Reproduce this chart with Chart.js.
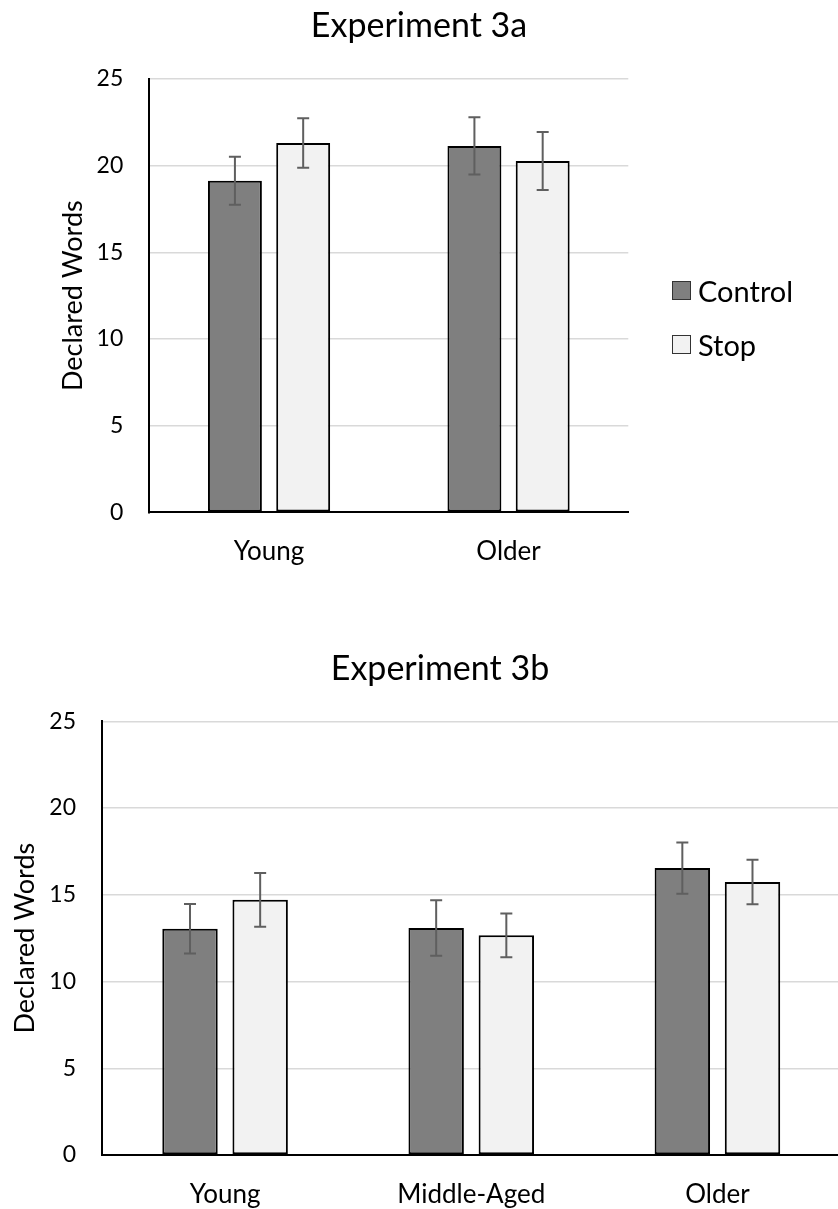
<!DOCTYPE html>
<html>
<head>
<meta charset="utf-8">
<script src="https://cdn.jsdelivr.net/npm/chart.js@4.4.1/dist/chart.umd.min.js"></script>
<style>
  html, body { margin: 0; padding: 0; background: #fff; overflow: hidden; }
  body { position: relative; width: 838px; height: 1209px; font-family: 'Lato', sans-serif; }
  #chartA { position: absolute; left: 0; top: 0; }
  #chartB { position: absolute; left: 0; top: 600px; }
  #legendA { position: absolute; left: 672px; top: 263px; }
  .item { display: flex; align-items: center; height: 54px; font-size: 29px; color: #000; }
  .box { width: 17px; height: 17px; border: 1.5px solid #333; margin-right: 7px; }
</style>
</head>
<body>
<canvas id="chartA" width="838" height="600"></canvas>
<canvas id="chartB" width="880" height="609"></canvas>
<div id="legendA"></div>
<script>
// Experiment 3a
const categoriesA = ['Young', 'Older'];
const controlA = [19.13, 21.14];
const stopA = [21.31, 20.27];
const controlErrA = [1.38, 1.65];
const stopErrA = [1.43, 1.67];

// Experiment 3b
const categoriesB = ['Young', 'Middle-Aged', 'Older'];
const controlB = [13.04, 13.08, 16.54];
const stopB = [14.71, 12.66, 15.74];
const controlErrB = [1.43, 1.60, 1.48];
const stopErrB = [1.55, 1.26, 1.28];

const seriesNames = ['Control', 'Stop'];
const seriesColors = ['#7f7f7f', '#f2f2f2'];

Chart.defaults.font.family = 'Lato';
Chart.defaults.color = '#000';

// error bars drawn from the y scale
const errorBars = {
    id: 'errorBars',
    afterDatasetsDraw(chart) {
        const ctx = chart.ctx;
        const y = chart.scales.y;
        ctx.save();
        ctx.strokeStyle = '#5f5f5f';
        ctx.lineWidth = 2;
        chart.data.datasets.forEach((ds, i) => {
            chart.getDatasetMeta(i).data.forEach((bar, j) => {
                const v = ds.data[j];
                const e = ds.errors[j];
                const top = y.getPixelForValue(v + e);
                const bot = y.getPixelForValue(v - e);
                ctx.beginPath();
                ctx.moveTo(bar.x, top);
                ctx.lineTo(bar.x, bot);
                ctx.moveTo(bar.x - 6, top);
                ctx.lineTo(bar.x + 6, top);
                ctx.moveTo(bar.x - 6, bot);
                ctx.lineTo(bar.x + 6, bot);
                ctx.stroke();
            });
        });
        ctx.restore();
    }
};

function makeChart(id, title, labels, control, stop, controlErr, stopErr, o) {
    return new Chart(document.getElementById(id), {
        type: 'bar',
        data: {
            labels: labels,
            datasets: [{
                label: seriesNames[0],
                data: control,
                errors: controlErr,
                backgroundColor: seriesColors[0],
            }, {
                label: seriesNames[1],
                data: stop,
                errors: stopErr,
                backgroundColor: seriesColors[1],
            }]
        },
        options: {
            responsive: false,
            animation: false,
            devicePixelRatio: 1,
            categoryPercentage: 0.57,
            barPercentage: 0.79,
            datasets: {
                bar: { borderColor: '#000', borderWidth: 2, borderSkipped: false }
            },
            layout: { padding: 0 },
            plugins: {
                legend: { display: false },
                tooltip: { enabled: false },
                title: {
                    display: true,
                    text: title,
                    color: '#000',
                    font: { size: 34, weight: 'normal' },
                    padding: { top: o.titleTop, bottom: o.titleBottom }
                }
            },
            scales: {
                x: {
                    grid: { display: false },
                    border: { display: true, color: '#000', width: 2 },
                    ticks: { padding: 16, color: '#000', font: { size: 26 } },
                    afterFit: (s) => { s.height = o.xHeight; }
                },
                y: {
                    min: 0,
                    max: 25,
                    ticks: { stepSize: 5, padding: 26, color: '#000', font: { size: 23 } },
                    grid: {
                        drawTicks: false,
                        lineWidth: 1.5,
                        color: (c) => c.tick && c.tick.value === 0 ? 'rgba(0,0,0,0)' : '#d9d9d9'
                    },
                    border: { display: true, color: '#000', width: 2 },
                    title: {
                        display: true,
                        text: 'Declared Words',
                        color: '#000',
                        font: { size: 27 },
                        padding: { top: o.yTitlePad, bottom: 0 }
                    },
                    afterFit: (s) => { s.width = o.yWidth; }
                },
                // empty space on the right (room for the legend)
                yRight: {
                    axis: 'y',
                    position: 'right',
                    grid: { display: false },
                    border: { display: false },
                    ticks: { display: false },
                    afterFit: (s) => { s.width = o.padRight; }
                }
            }
        },
        plugins: [errorBars]
    });
}

makeChart('chartA', 'Experiment 3a', categoriesA, controlA, stopA, controlErrA, stopErrA, {
    padRight: 209.7, titleTop: 6, titleBottom: 32.2, xHeight: 87.7, yWidth: 149.3, yTitlePad: 56.9
});
makeChart('chartB', 'Experiment 3b', categoriesB, controlB, stopB, controlErrB, stopErrB, {
    padRight: 39.5, titleTop: 48.3, titleBottom: 32.2, xHeight: 54, yWidth: 102, yTitlePad: 8.9
});

// legend for the top chart
const legend = document.getElementById('legendA');
seriesNames.forEach((name, i) => {
    const item = document.createElement('div');
    item.className = 'item';
    const box = document.createElement('span');
    box.className = 'box';
    box.style.background = seriesColors[i];
    item.appendChild(box);
    item.appendChild(document.createTextNode(name));
    legend.appendChild(item);
});
</script>
</body>
</html>
